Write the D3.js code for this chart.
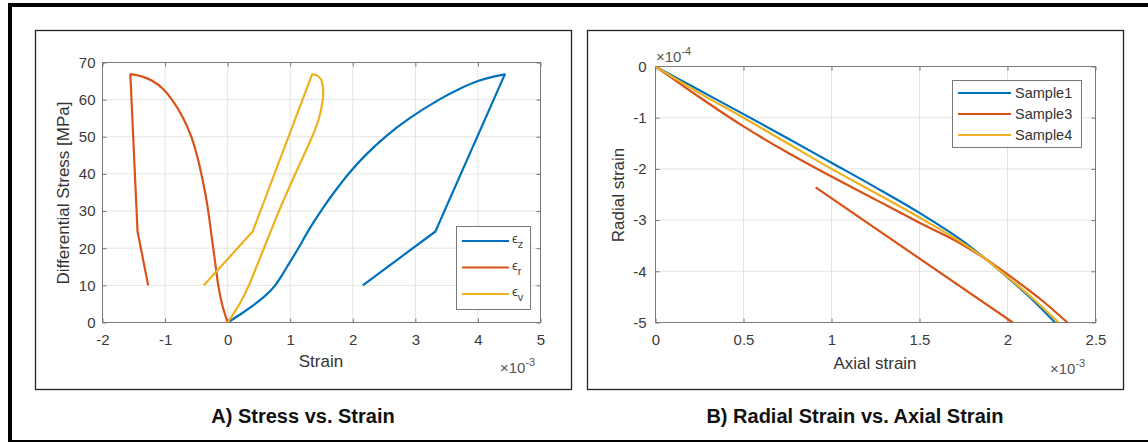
<!DOCTYPE html>
<html><head><meta charset="utf-8">
<script src="https://cdn.jsdelivr.net/npm/d3@7"></script>
<style>
html,body{margin:0;padding:0;background:#fff;}
svg{display:block;font-family:"Liberation Sans",Arial,sans-serif;}
</style></head>
<body>
<svg id="c" width="1148" height="442"></svg>
<script>
// ---------- DATA ----------
// Panel A: strain in units of 1e-3, differential stress in MPa (loading branch, then unloading)
const ezStrain = [0,0.23,0.44,0.62,0.76,0.86,0.95,1.13,1.30,1.49,1.70,1.93,2.20,2.52,2.91,3.38,3.72,4.0,4.25,4.43,3.32,2.16];
const ezStress = [0,2.5,5,7.5,10,12.5,15,20,25,30,35,40,45,50,55,60,63,65,66.2,66.8,24.5,10];
const erStrain = [0,-0.09,-0.15,-0.19,-0.23,-0.27,-0.31,-0.36,-0.42,-0.49,-0.58,-0.71,-0.89,-1.04,-1.2,-1.36,-1.53,-1.555,-1.44,-1.27];
const erStress = [0,5,10,15,20,25,30,35,40,45,50,55,60,63,65,66.2,66.8,66.8,24.5,10];
const evStrain = [0,0.19,0.34,0.46,0.58,0.82,1.08,1.35,1.46,1.52,1.525,1.49,1.42,1.35,0.40,-0.38];
const evStress = [0,5,10,15,20,30,40,50,55,60,63,65.5,66.6,66.8,24.5,10];
const seriesA = ["\u03F5z","\u03F5r","\u03F5v"];
const xTicksA = [-2,-1,0,1,2,3,4,5];
const yTicksA = [0,10,20,30,40,50,60,70];

// Panel B: axial strain in units of 1e-3, radial strain in units of 1e-4
const s1Axial  = [0,0.25,0.5,0.75,1.0,1.25,1.5,1.75,1.876,2.0,2.14,2.27];
const s1Radial = [0,-0.465,-0.93,-1.40,-1.88,-2.36,-2.86,-3.42,-3.76,-4.12,-4.55,-5.0];
const s3Axial  = [0,0.25,0.5,0.75,1.0,1.25,1.5,1.75,1.876,2.0,2.2,2.34];
const s3Radial = [0,-0.6,-1.17,-1.68,-2.15,-2.6,-3.05,-3.49,-3.76,-4.06,-4.58,-5.0];
const s3bAxial  = [0.91,2.03];
const s3bRadial = [-2.36,-5.0];
const s4Axial  = [0,0.25,0.5,0.75,1.0,1.25,1.5,1.75,1.876,2.0,2.15,2.29];
const s4Radial = [0,-0.52,-1.0,-1.5,-2.0,-2.47,-2.95,-3.46,-3.76,-4.11,-4.55,-5.0];
const seriesB = ["Sample1","Sample3","Sample4"];
const xTicksB = [0,0.5,1,1.5,2,2.5];
const yTicksB = [0,-1,-2,-3,-4,-5];

const colors = ["#0072BD","#D95319","#EDB120"];

// ---------- DRAW ----------
const svg = d3.select("#c");
svg.append("rect").attr("x",8).attr("y",3).attr("width",1140).attr("height",4).attr("fill","#000");
svg.append("rect").attr("x",8).attr("y",3).attr("width",4).attr("height",439).attr("fill","#000");
svg.append("rect").attr("x",8).attr("y",440).attr("width",1140).attr("height",2).attr("fill","#000");
svg.append("rect").attr("x",35.5).attr("y",30.5).attr("width",536).attr("height",359)
  .attr("fill","none").attr("stroke","#222").attr("stroke-width",1.3);
svg.append("rect").attr("x",587.5).attr("y",30.5).attr("width",536).attr("height",359)
  .attr("fill","none").attr("stroke","#222").attr("stroke-width",1.3);

const tickCol = "#3a3a3a";
function drawAxes(x, y, xt, yt, ypad, id){
  const [x0,x1] = x.range(), [y0,y1] = y.range();
  const g = svg.append("g");
  g.selectAll(".gx").data(xt).join("line").attr("x1",d=>x(d)).attr("x2",d=>x(d))
    .attr("y1",y0).attr("y2",y1).attr("stroke","#e4e4e4").attr("stroke-width",1);
  g.selectAll(".gy").data(yt).join("line").attr("y1",d=>y(d)).attr("y2",d=>y(d))
    .attr("x1",x0).attr("x2",x1).attr("stroke","#e4e4e4").attr("stroke-width",1);
  const fmt = d=>String(d);
  const ax = [
    g.append("g").attr("transform",`translate(0,${y0})`).call(d3.axisBottom(x).tickValues(xt).tickSize(-4).tickPadding(12).tickFormat(fmt)),
    g.append("g").attr("transform",`translate(0,${y1})`).call(d3.axisTop(x).tickValues(xt).tickSize(-4).tickFormat("")),
    g.append("g").attr("transform",`translate(${x0},0)`).call(d3.axisLeft(y).tickValues(yt).tickSize(-4).tickPadding(ypad).tickFormat(fmt)),
    g.append("g").attr("transform",`translate(${x1},0)`).call(d3.axisRight(y).tickValues(yt).tickSize(-4).tickFormat(""))
  ];
  ax.forEach(a=>{
    a.select(".domain").remove();
    a.selectAll("line").attr("stroke","#777");
    a.selectAll("text").attr("fill",tickCol).style("font-size","15px").style("font-family","'Liberation Sans',Arial,sans-serif");
  });
  g.append("rect").attr("x",x0).attr("y",y1).attr("width",x1-x0).attr("height",y0-y1)
    .attr("fill","none").attr("stroke","#7a7a7a").attr("stroke-width",1);
  svg.append("clipPath").attr("id",id).append("rect").attr("x",x0).attr("y",y1).attr("width",x1-x0).attr("height",y0-y1);
  return g;
}

function multiplier(xp, yp, exp){
  const t = svg.append("text").attr("x",xp).attr("y",yp).attr("fill","#555").style("font-size","15px");
  t.append("tspan").text("\u00D710");
  t.append("tspan").attr("dy",-7).style("font-size","11px").text(exp);
}

// ----- Panel A -----
const xA = d3.scaleLinear().domain([-2,5]).range([102.5,540.5]);
const yA = d3.scaleLinear().domain([0,70]).range([322.5,62.5]);
drawAxes(xA,yA,xTicksA,yTicksA,7,"clipA");
const smoothA = d3.line().x(d=>xA(d[0])).y(d=>yA(d[1])).curve(d3.curveCatmullRom.alpha(0.5));
const straightA = d3.line().x(d=>xA(d[0])).y(d=>yA(d[1]));
const rawA = [[ezStrain,ezStress],[erStrain,erStress],[evStrain,evStress]];
const gA = svg.append("g").attr("clip-path","url(#clipA)");
rawA.forEach(([sx,sy],i)=>{
  const pts = d3.zip(sx,sy);
  const pk = d3.maxIndex(sy);
  gA.append("path").attr("d",smoothA(pts.slice(0,pk+1)) + straightA(pts.slice(pk)).replace(/^M/,"L"))
    .attr("fill","none").attr("stroke",colors[i]).attr("stroke-width",2.2).attr("stroke-linejoin","round");
});
svg.append("text").attr("x",321).attr("y",367).attr("text-anchor","middle").attr("fill","#333")
  .style("font-size","17px").text("Strain");
svg.append("text").attr("transform","translate(69,193) rotate(-90)").attr("text-anchor","middle").attr("fill","#333")
  .style("font-size","17px").text("Differential Stress [MPa]");
multiplier(500,373,"-3");
const lgA = svg.append("g");
lgA.append("rect").attr("x",456.5).attr("y",226.5).attr("width",74).attr("height",83)
  .attr("fill","#fff").attr("stroke","#777").attr("stroke-width",1);
seriesA.forEach((s,i)=>{
  const yy = 241 + i*26.5;
  lgA.append("line").attr("x1",462).attr("x2",509).attr("y1",yy).attr("y2",yy)
    .attr("stroke",colors[i]).attr("stroke-width",2.2);
  const t = lgA.append("text").attr("x",512).attr("y",yy+2).attr("fill","#444").style("font-size","13px");
  t.append("tspan").text(s[0]);
  t.append("tspan").attr("dy",5).style("font-size","11px").text(s[1]);
});
svg.append("text").attr("x",303).attr("y",423).attr("text-anchor","middle").attr("fill","#111")
  .style("font-size","20px").style("font-weight","bold").text("A) Stress vs. Strain");

// ----- Panel B -----
const xB = d3.scaleLinear().domain([0,2.5]).range([655.5,1095.5]);
const yB = d3.scaleLinear().domain([-5,0]).range([322.5,66.5]);
drawAxes(xB,yB,xTicksB,yTicksB,9,"clipB");
const lineB = d3.line().x(d=>xB(d[0])).y(d=>yB(d[1])).curve(d3.curveMonotoneX);
const dataB = [
  {c:0, d:d3.zip(s1Axial,s1Radial)},
  {c:1, d:d3.zip(s3bAxial,s3bRadial)},
  {c:1, d:d3.zip(s3Axial,s3Radial)},
  {c:2, d:d3.zip(s4Axial,s4Radial)}
];
svg.append("g").attr("clip-path","url(#clipB)").selectAll("path").data(dataB).join("path")
  .attr("d",d=>lineB(d.d)).attr("fill","none").attr("stroke",d=>colors[d.c]).attr("stroke-width",2.2)
  .attr("stroke-linejoin","round");
svg.append("text").attr("x",875).attr("y",369).attr("text-anchor","middle").attr("fill","#333")
  .style("font-size","17px").text("Axial strain");
svg.append("text").attr("transform","translate(624,195) rotate(-90)").attr("text-anchor","middle").attr("fill","#333")
  .style("font-size","17px").text("Radial strain");
multiplier(1050,374,"-3");
multiplier(656,62,"-4");
const lgB = svg.append("g");
lgB.append("rect").attr("x",952.5).attr("y",80.5).attr("width",129).attr("height",67)
  .attr("fill","#fff").attr("stroke","#777").attr("stroke-width",1);
seriesB.forEach((s,i)=>{
  const yy = 93 + i*21;
  lgB.append("line").attr("x1",958).attr("x2",1011).attr("y1",yy).attr("y2",yy)
    .attr("stroke",colors[i]).attr("stroke-width",2.2);
  lgB.append("text").attr("x",1015).attr("y",yy+5).attr("fill","#333").style("font-size","14.5px").text(s);
});
svg.append("text").attr("x",855).attr("y",423).attr("text-anchor","middle").attr("fill","#111")
  .style("font-size","20px").style("font-weight","bold").text("B) Radial Strain vs. Axial Strain");
</script>
</body></html>
